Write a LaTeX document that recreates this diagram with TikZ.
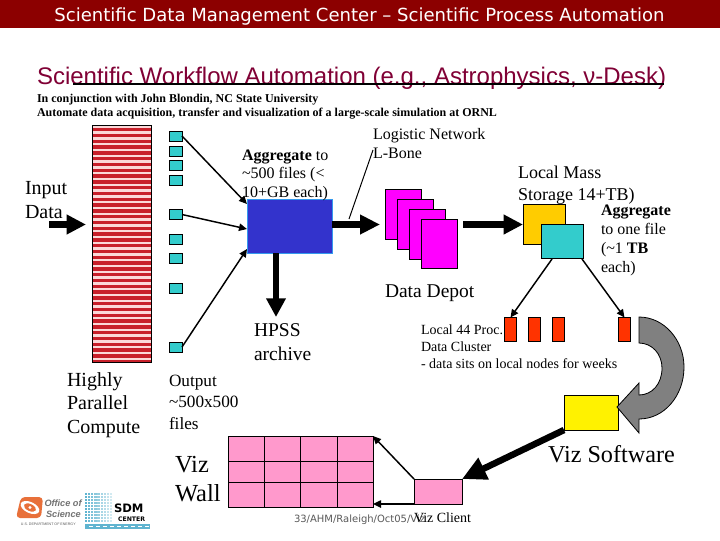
\documentclass[tikz,border=0pt]{standalone}
\usepackage{fontspec}
\setmainfont{Liberation Serif}
\newfontfamily\arialf{Liberation Sans}
\newfontfamily\verd{DejaVu Sans}
\usetikzlibrary{arrows.meta}
\newcommand{\setpx}[1]{\pgfmathsetmacro\tmpsz{#1*0.75}\fontsize{\tmpsz pt}{\tmpsz pt}\selectfont}
\newcommand{\rectn}[6]{\node[#2,minimum width={(#5-#3)*0.75pt},minimum height={(#6-#4)*0.75pt}] (#1) at ({(#3+#5)/2},{(#4+#6)/2}) {};}
\definecolor{hdr}{HTML}{8C0000}
\definecolor{ttl}{HTML}{800035}
\definecolor{cy}{HTML}{33CCCC}
\definecolor{mag}{HTML}{FF00FF}
\definecolor{pinkw}{HTML}{FF99CC}
\definecolor{redb}{HTML}{FF3300}
\definecolor{stripe}{HTML}{C8202A}
\definecolor{stripeb}{HTML}{FBD8D8}
\definecolor{gry}{HTML}{808080}
\definecolor{oran}{HTML}{FFCC00}
\definecolor{bluef}{HTML}{3333CC}
\definecolor{blued}{HTML}{3399EE}
\definecolor{logoo}{HTML}{E8703A}
\definecolor{logob}{HTML}{5FB4D0}
\tikzset{
 bx/.style={draw=black,line width=0.75pt,inner sep=0pt,outer sep=0pt,rectangle},
 sq/.style={bx,fill=cy},
 depot/.style={bx,fill=mag},
 bar/.style={bx,fill=redb},
 wall/.style={bx,fill=pinkw},
 lab/.style={anchor=base west,inner sep=0pt,outer sep=0pt,font=\setpx{#1}},
 thin arrow/.style={line width=1.1pt,-{Triangle[length=6pt,width=5.5pt]}},
 thick arrow/.style={line width=#1*0.75pt},
 plain line/.style={line width=0.75pt},
}
\begin{document}
\begin{tikzpicture}[x=0.75pt,y=-0.75pt]
\useasboundingbox (0,0) rectangle (720,540);
\fill[white] (0,0) rectangle (720,540);
\rectn{header}{fill=hdr,inner sep=0pt,outer sep=0pt}{0}{0}{720}{28}
\node[anchor=base,inner sep=0pt,text=white,font=\verd\setpx{18.05}] (htext) at (359.5,21) {Scientific Data Management Center – Scientific Process Automation};
% title
\node[lab=22,text=ttl,font=\arialf\setpx{24}] (title) at (37,84) {Scientific Workflow Automation (e.g., Astrophysics, ν-Desk)};
\coordinate (ruleA) at (73,84);
\coordinate (ruleB) at (664,84);
\draw[line width=0.8pt] (ruleA) -- (ruleB);
\node[lab=12,font=\bfseries\setpx{12}] (sub1) at (37,102) {In conjunction with John Blondin, NC State University};
\node[lab=12,font=\bfseries\setpx{12}] (sub2) at (37,116) {Automate data acquisition, transfer and visualization of a large-scale simulation at ORNL};
% compute block
\rectn{comp}{fill=stripeb,inner sep=0pt,outer sep=0pt}{92}{125.5}{151}{362}
\foreach \i in {0,...,40}{
 \fill[stripe] (92,{128+\i*5.8}) rectangle (151,{131.4+\i*5.8});
}
\draw[line width=0.75pt] (comp.south west) rectangle (comp.north east);
% squares
\rectn{s1}{sq}{169}{131}{182}{141}
\rectn{s2}{sq}{169}{146}{182}{156}
\rectn{s3}{sq}{169}{160.5}{182}{170.5}
\rectn{s4}{sq}{169}{175.5}{182}{185.5}
\rectn{s5}{sq}{169}{209.5}{182}{219.5}
\rectn{s6}{sq}{169}{234.5}{182}{244.5}
\rectn{s7}{sq}{169}{253.5}{182}{263.5}
\rectn{s8}{sq}{169}{283.5}{182}{293.5}
\rectn{s9}{sq}{169}{342}{182}{352}
% blue
\rectn{blue}{bx,draw=blued,fill=bluef}{247}{199}{332}{253}
\coordinate (bA) at (247,204);
\coordinate (bB) at (247,229);
\coordinate (bC) at (247,249);
\draw[thin arrow] (s1.east) -- (bA);
\draw[thin arrow] (s5.east) -- (bB);
\draw[thin arrow] (s9.east) -- (bC);
% depot
\rectn{d1}{depot}{385}{189}{421}{239}
\rectn{d2}{depot}{397}{199}{433}{249}
\rectn{d3}{depot}{409}{209}{445}{259}
\rectn{d4}{depot}{421}{219}{457}{268}
% storage
\rectn{orange}{bx,fill=oran}{523.5}{204.5}{565.5}{244.5}
\rectn{cyb}{bx,fill=cy}{541.5}{224.5}{583.5}{258.5}
% thick arrows
\coordinate (inA) at (49,224.5);
\coordinate (inB) at (86,224.5);
\draw[thick arrow=7,-{Triangle[length=14.5pt,width=14pt]}] (inA) -- (inB);
\coordinate (blueR) at (332,224.5);
\coordinate (depL) at (380,224.5);
\draw[thick arrow=7,-{Triangle[length=15pt,width=14pt]}] (blueR) -- (depL);
\coordinate (dep) at (463,224.5);
\coordinate (ora) at (523,224.5);
\draw[thick arrow=7,-{Triangle[length=14.5pt,width=14pt]}] (dep) -- (ora);
\coordinate (hp) at (276,317);
\draw[thick arrow=6.5,-{Triangle[length=14pt,width=14pt]}] (blue.south -| hp) -- (hp);
% thin line
\coordinate (lgA) at (349,219);
\coordinate (lgB) at (373,150);
\draw[plain line] (lgA) -- (lgB);
% red bars
\rectn{r1}{bar}{504.5}{317.5}{516.5}{341.5}
\rectn{r2}{bar}{528.5}{317.5}{540.5}{341.5}
\rectn{r3}{bar}{552.5}{317.5}{564.5}{341.5}
\rectn{r4}{bar}{618.5}{317.5}{630.5}{341.5}
\coordinate (cA) at (552,259);
\coordinate (cB) at (582,259);
\draw[thin arrow] (cA) -- (r1.north);
\draw[thin arrow] (cB) -- (r4.north);
% yellow
\rectn{yel}{bx,fill=yellow}{564}{395}{618}{430}
% gray curved arrow
\draw[fill=gry,line width=0.6pt]
 (639,317) .. controls (664,317) and (684,340) .. (684,367)
 .. controls (684,396) and (664,419) .. (639,419)
 -- (639,433) -- (617,407) -- (639,383) -- (639,395)
 .. controls (652,395) and (662,384) .. (662,368)
 .. controls (662,354) and (652,343) .. (639,343) -- cycle;
% viz client
\rectn{client}{wall}{414}{479}{462}{504}
\coordinate (vA) at (564,430);
\draw[thick arrow=6.5,-{Triangle[length=18pt,width=17pt]}] (vA) -- (client.north east);
% wall
\foreach \cn/\xa/\xb in {0/228/264.5,1/264.5/300.5,2/300.5/337,3/337/373}{
 \rectn{wa\cn}{wall}{\xa}{436}{\xb}{461}
 \rectn{wb\cn}{wall}{\xa}{461}{\xb}{482}
 \rectn{wc\cn}{wall}{\xa}{482}{\xb}{507}
}
\coordinate (wtop) at (373,436);
\draw[thin arrow] (client.north west) -- (wtop);
\coordinate (wbot) at (373,504);
\draw[thin arrow] (client.south west) -- (wbot);
% labels
\node[lab=20] (l1) at (25,194) {Input};
\node[lab=20] (l2) at (25,218) {Data};
\node[lab=16] (a1) at (242,160) {\textbf{Aggregate} to};
\node[lab=16] (a2) at (242,178) {\textasciitilde500 files (<};
\node[lab=16] (a3) at (242,197) {10+GB each)};
\node[lab=16] (lg1) at (373,139) {Logistic Network};
\node[lab=16] (lg2) at (373,158) {L-Bone};
\node[lab=18] (m1) at (518,178) {Local Mass};
\node[lab=18] (m2) at (518,200) {Storage 14+TB)};
\node[lab=16] (g1) at (601,215) {\textbf{Aggregate}};
\node[lab=16] (g2) at (601,234) {to one file};
\node[lab=16] (g3) at (601,253) {(\textasciitilde1 \textbf{TB}};
\node[lab=16] (g4) at (601,272) {each)};
\node[lab=19.5] (dd) at (385,297) {Data Depot};
\node[lab=19.5] (h1) at (254,336) {HPSS};
\node[lab=19.5] (h2) at (254,360) {archive};
\node[lab=14] (c1) at (421,334) {Local 44 Proc.};
\node[lab=14] (c2) at (421,351) {Data Cluster};
\node[lab=14] (c3) at (421,368) {- data sits on local nodes for weeks};
\node[lab=20] (p1) at (67,386) {Highly};
\node[lab=20] (p2) at (67,409) {Parallel};
\node[lab=20] (p3) at (67,433) {Compute};
\node[lab=17.2] (o1) at (169,386) {Output};
\node[lab=17.2] (o2) at (169,407) {\textasciitilde500x500};
\node[lab=17.2] (o3) at (169,429) {files};
\node[lab=24.5] (w1) at (175,472) {Viz};
\node[lab=24.5] (w2) at (175,501) {Wall};
\node[lab=24.2] (vs) at (548,462) {Viz Software};
\node[lab=10,text=black!65,font=\verd\setpx{10}] (foot) at (294,522) {33/AHM/Raleigh/Oct05/Viz};
\node[lab=14] (vc) at (414,522) {Viz Client};
% logo
\fill[logoo,rounded corners=3] (21,497) -- (43,497) -- (41,518) -- (16,518) -- cycle;
\fill[white,rotate around={-25:(30,507.5)}] (30,507.5) ellipse (10 and 5.5);
\fill[logoo,rotate around={-25:(30,507.5)}] (30,507.5) ellipse (6.5 and 3.5);
\fill[white] (30,507.5) circle (1.6);
\node[lab=9,text=black!55,font=\arialf\bfseries\itshape\setpx{9.2}] (of1) at (44.5,506) {Office of};
\node[lab=9,text=black!55,font=\arialf\bfseries\itshape\setpx{9.2}] (of2) at (46,517) {Science};
\node[lab=4,text=black!65,font=\arialf\setpx{3.6}] (of3) at (21,525) {U.S. DEPARTMENT OF ENERGY};
\foreach \i in {0,...,8}{\foreach \j in {0,...,9}{
 \pgfmathsetmacro\op{max(0.25,1-\i*0.09)}
 \fill[logob,opacity=\op] ({85+\i*3.1},{493+\j*3}) rectangle ({87.2+\i*3.1},{495.2+\j*3});
}}
\fill[logob] (85,523.5) rectangle (150,529);
\foreach \i in {0,...,8}{\fill[white] ({89+\i*7},525.5) rectangle ({93+\i*7},527);}
\node[lab=12,font=\verd\bfseries\setpx{11.6}] (sdm) at (114,512.5) {SDM};
\node[lab=7,font=\verd\bfseries\setpx{6.2}] (ctr) at (118,521) {CENTER};
\end{tikzpicture}
\end{document}
